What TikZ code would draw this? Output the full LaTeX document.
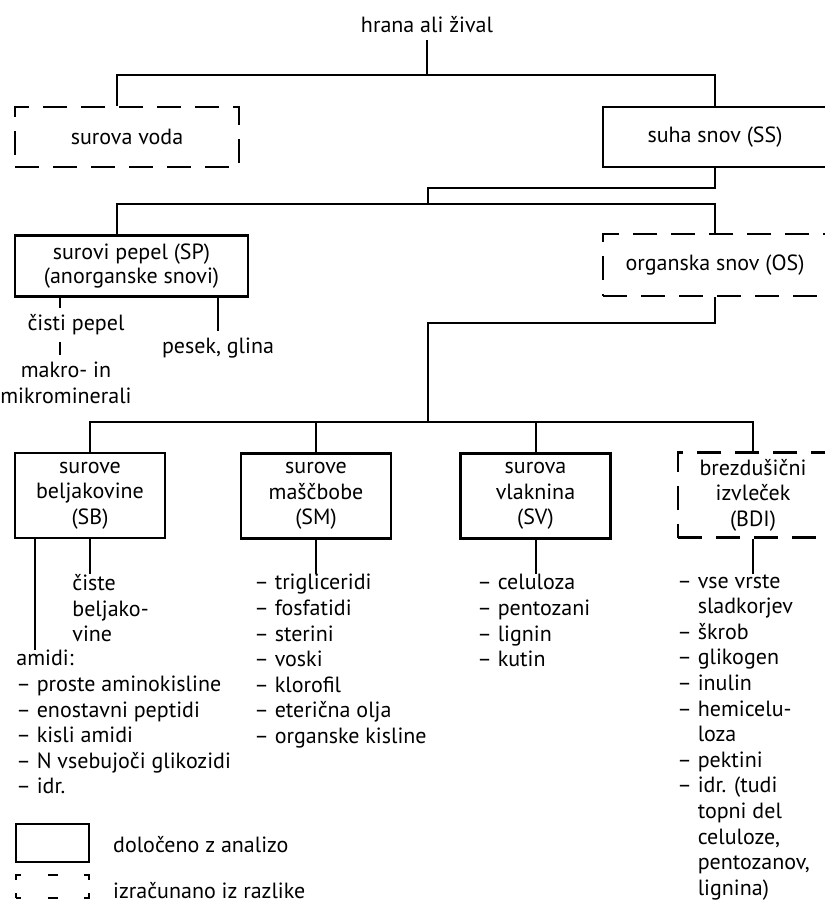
\documentclass[tikz,border=0pt]{standalone}
\usepackage{fontspec}
\setmainfont{PT Sans}
\usetikzlibrary{positioning}

\tikzset{
  box/.style={draw, line width=1.1pt, align=center, inner sep=2pt},
  calcbox/.style={box, dash pattern=on 12pt off 7pt},
  items/.style={align=left, anchor=north west, inner sep=0pt, execute at begin node=\strut},
  link/.style={line width=1pt},
}
\newcommand{\ind}{\hphantom{– }}

\begin{document}
\begin{tikzpicture}[x=0.5pt, y=-0.5pt, font=\fontsize{11}{12.8}\selectfont]
        \clip (0,0) rectangle (825,906);

        % feed, water, dry matter
        \node (food) at (427,25) {hrana ali žival};
        \node[calcbox, minimum width=112pt, minimum height=30pt] (water) at (127,137) {surova voda};
        \node[box, minimum width=112pt, minimum height=30pt] (dm) at (715,137) {suha snov (SS)};
        \coordinate (j1) at (427,75);
        \draw[link] (food) -- (j1);
        \draw[link] ([xshift=-5pt]water.north) |- (j1) -| (dm.north);

        % ash and organic matter
        \node[box, minimum width=116.5pt, minimum height=30.5pt] (ash) at (131.5,266) {surovi pepel (SP)\\[-1pt](anorganske snovi)};
        \node[calcbox, minimum width=112pt, minimum height=31pt] (om) at (715,265) {organska snov (OS)};
        \coordinate (j2) at (428,188);
        \coordinate (j3) at (428,204);
        \draw[link] (dm.south) |- (j2) -- (j3);
        \draw[link] ([xshift=-7.25pt]ash.north) |- (j3) -| (om.north);

        \node (pureash) at (76,325) {čisti pepel};
        \node[align=center] (minerals) at (66,383) {makro- in\\mikrominerali};
        \node (sand) at (218,348) {pesek, glina};
        \coordinate (ashl) at ([xshift=-8pt]pureash.north);
        \draw[link] (ashl |- ash.south) -- (ashl);
        \draw[link] (ashl |- pureash.south) -- (ashl |- minerals.north);
        \draw[link] (sand.north |- ash.south) -- (sand.north);

        % the four fractions of organic matter
        \node[box, minimum width=75pt, minimum height=42.5pt] (prot) at (90,495.5) {surove\\beljakovine\\(SB)};
        \node[box, minimum width=75pt, minimum height=42.5pt] (fat) at (316,496) {surove\\maščbobe\\(SM)};
        \node[box, minimum width=75pt, minimum height=42.5pt] (fibre) at (535.5,496) {surova\\vlaknina\\(SV)};
        \node[calcbox, minimum width=75pt, minimum height=42.5pt] (nfe) at (753,495) {brezdušični\\izvleček\\(BDI)};
        \coordinate (j4) at (428,323);
        \coordinate (j5) at (428,422);
        \draw[link] (om.south) |- (j4) -- (j5);
        \draw[link] (prot.north) |- (j5) -| (nfe.north);
        \draw[link] (fat.north) -- (fat.north |- j5);
        \draw[link] (fibre.north) -- (fibre.north |- j5);

        % what each fraction holds
        \node[items] (trueprot) at (72,574) {čiste\\beljako-\\vine};
        \node[items] (amides) at (16,650) {amidi:\\– proste aminokisline\\– enostavni peptidi\\– kisli amidi\\– N vsebujoči glikozidi\\– idr.};
        \node[items] (lipids) at (254,574) {– trigliceridi\\– fosfatidi\\– sterini\\– voski\\– klorofil\\– eterična olja\\– organske kisline};
        \node[items] (fibres) at (477,574) {– celuloza\\– pentozani\\– lignin\\– kutin};
        \node[items] (sugars) at (677,574) {– vse vrste\\\ind sladkorjev\\– škrob\\– glikogen\\– inulin\\– hemicelu-\\\ind loza\\– pektini\\– idr. (tudi\\\ind topni del\\\ind celuloze,\\\ind pentozanov,\\\ind lignina)};
        \coordinate (protl) at ([xshift=-27.5pt]prot.south);
        \draw[link] (protl) -- (protl |- amides.north);
        \draw[link] (prot.south) -- (prot.south |- trueprot.north);
        \draw[link] (fat.south) -- (fat.south |- lipids.north);
        \draw[link] (fibre.south) -- (fibre.south |- fibres.north);
        \draw[link] (nfe.south) -- (nfe.south |- sugars.north);

        % key
        \node[box, minimum width=36.5pt, minimum height=19pt, inner sep=0pt] (keyan) at (52.5,843) {};
        \node[right=8pt of keyan, yshift=-1pt] (keyantext) {določeno z analizo};
        \node[draw, line width=1.1pt, minimum width=36.5pt, minimum height=11.5pt, inner sep=0pt,
              dash pattern=on 5pt off 13.25pt on 5pt off 13.25pt on 5pt off 6.5pt, dash phase=2.5pt] (keydiff) at (52.5,886.5) {};
        \node[right=8pt of keydiff, yshift=-2pt] (keydifftext) {izračunano iz razlike};
\end{tikzpicture}
\end{document}
